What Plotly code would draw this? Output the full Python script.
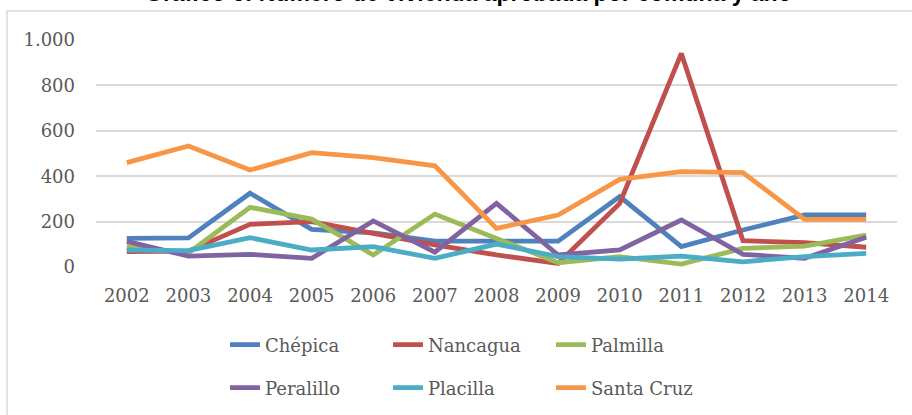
import plotly.graph_objects as go

years = ["2002", "2003", "2004", "2005", "2006", "2007", "2008", "2009", "2010", "2011", "2012", "2013", "2014"]
chepica = [126, 128, 325, 166, 150, 114, 114, 114, 310, 90, 163, 229, 229]
nancagua = [68, 70, 188, 200, 148, 97, 53, 16, 280, 941, 116, 107, 87]
palmilla = [90, 62, 263, 211, 53, 233, 126, 19, 46, 13, 82, 92, 141]
peralillo = [113, 48, 56, 38, 203, 65, 280, 53, 75, 207, 56, 38, 131]
placilla = [74, 72, 129, 75, 90, 38, 101, 46, 35, 48, 23, 46, 60]
santa_cruz = [460, 533, 427, 504, 482, 446, 170, 229, 386, 420, 416, 210, 210]

series_names = ["Chépica", "Nancagua", "Palmilla", "Peralillo", "Placilla", "Santa Cruz"]
series_values = [chepica, nancagua, palmilla, peralillo, placilla, santa_cruz]
colors = ["#4F81BD", "#C0504D", "#9BBB59", "#8064A2", "#4BACC6", "#F79646"]

y_tickvals = [0, 200, 400, 600, 800, 1000]
y_ticktext = ["0", "200", "400", "600", "800", "1.000"]

title_text = "Gráfico 6: Número de vivienda aprobada por comuna y año"

W, H = 912, 415
L, R, T, B = 96, 897, 40, 267  # plot area in pixels


def px_x(px):
    return (px - L) / (R - L)


def px_y(py):
    return (B - py) / (B - T)


fig = go.Figure()
for i, (name, vals, col) in enumerate(zip(series_names, series_values, colors)):
    fig.add_trace(go.Scatter(
        x=years, y=vals, name=name, mode="lines",
        line=dict(color=col, width=4.8),
        legend="legend" if i < 3 else "legend2",
    ))

font_serif = "DejaVu Serif"
txt_col = "#595959"

legend_common = dict(
    orientation="h", xref="paper", yref="paper",
    xanchor="left", yanchor="middle",
    entrywidth=118, entrywidthmode="pixels",
    font=dict(family=font_serif, size=18, color=txt_col),
    bgcolor="rgba(0,0,0,0)", itemwidth=30,
)

fig.update_layout(
    width=W, height=H,
    margin=dict(l=L, r=W - R, t=T, b=H - B, autoexpand=False),
    paper_bgcolor="white", plot_bgcolor="white",
    showlegend=True,
    legend=dict(x=px_x(225), y=px_y(345), **legend_common),
    legend2=dict(x=px_x(225), y=px_y(388), **legend_common),
    xaxis=dict(
        type="category", range=[-0.5, 12.5],
        showgrid=False, showline=False, zeroline=False,
        ticks="", tickfont=dict(family=font_serif, size=18, color=txt_col),
        ticklabelstandoff=16,
    ),
    yaxis=dict(
        range=[0, 1000], tickvals=y_tickvals, ticktext=y_ticktext,
        showgrid=True, gridcolor="#D9D9D9", gridwidth=1.5,
        zeroline=False, showline=False, ticks="",
        tickfont=dict(family=font_serif, size=18, color=txt_col),
        ticklabelstandoff=20,
    ),
    shapes=[dict(
        type="rect", xref="paper", yref="paper",
        x0=px_x(7), x1=px_x(925), y0=px_y(430), y1=px_y(11),
        line=dict(color="#D9D9D9", width=1.5), fillcolor="rgba(0,0,0,0)",
        layer="below",
    )],
    annotations=[dict(
        text="<b>" + title_text + "</b>", xref="paper", yref="paper",
        x=px_x(468), y=px_y(7.5), xanchor="center", yanchor="bottom",
        showarrow=False,
        font=dict(family="Liberation Sans", size=23, color="black"),
    )],
)

fig.write_html(
    "out.html",
    config={"displayModeBar": False},
    post_script="document.body.style.margin='0';document.body.style.overflow='hidden';",
)
